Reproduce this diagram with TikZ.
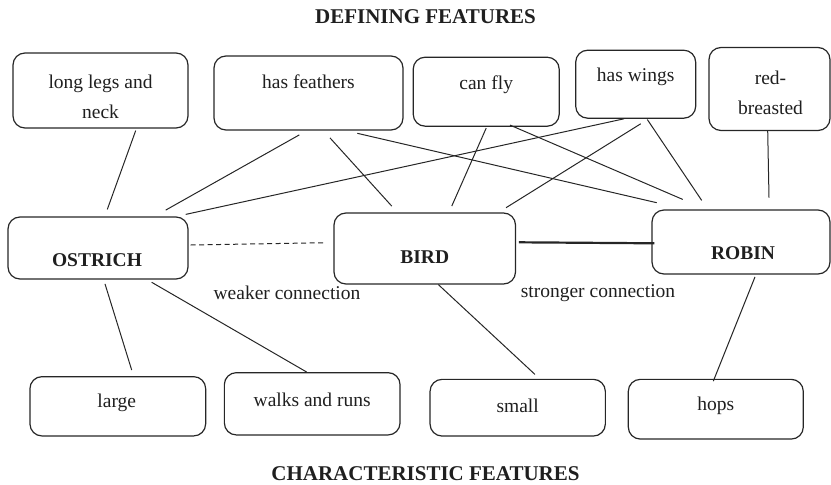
\documentclass[tikz,border=0pt]{standalone}
\usepackage{fontspec}
\setmainfont{Liberation Serif}
\begin{document}
\begin{tikzpicture}[x=1pt,y=1pt,
  box/.style 2 args={draw=black!85, line width=1.2pt, rounded corners=12pt,
    rectangle, inner sep=0pt, minimum width=#1, minimum height=#2},
  lbl/.style={font=\fontsize{19.5}{30}\selectfont, text=black!88, align=center, inner sep=0pt},
  bold/.style={font=\fontsize{19.5}{30}\selectfont\bfseries, text=black!88, inner sep=0pt},
  title/.style={font=\fontsize{21}{25}\selectfont\bfseries, text=black!88, inner sep=0pt},
  link/.style={draw=black!85, line width=1pt},
  weak/.style={link, dashed, dash pattern=on 5pt off 3.5pt},
  strong/.style={draw=black!85, line width=2.2pt}]
\path[use as bounding box] (0,0) rectangle (831,-485);

% headings
\node[title] (top) at (425.5,-17) {DEFINING FEATURES};
\node[title] (bottom) at (425.5,-474) {CHARACTERISTIC FEATURES};

% defining features
\node[box={175pt}{75pt}, label={[lbl,yshift=-6.5pt]center:long legs and\\neck}] (legs) at (100.5,-90.5) {};
\node[box={189pt}{74pt}, label={[lbl,yshift=11pt]center:has feathers}] (feathers) at (308.5,-93) {};
\node[box={146pt}{69pt}, label={[lbl,yshift=6.7pt]center:can fly}] (fly) at (486.2,-91.7) {};
\node[box={120pt}{68pt}, label={[lbl,yshift=7.5pt]center:has wings}] (wings) at (635.7,-84.2) {};
\node[box={121pt}{83pt}, label={[lbl,yshift=-3.5pt,xshift=1pt]center:red-\\breasted}] (red) at (769.5,-89) {};

% concepts
\node[box={180pt}{62pt}, label={[bold,yshift=-12pt,xshift=-1pt]center:OSTRICH}] (ostrich) at (98,-248) {};
\node[box={181.5pt}{71pt}, label={[bold,yshift=-8.5pt]center:BIRD}] (bird) at (424.75,-248.5) {};
\node[box={178pt}{64pt}, label={[bold,yshift=-11pt,xshift=2pt]center:ROBIN}] (robin) at (741,-242) {};

% characteristic features
\node[box={175.7pt}{59.3pt}, label={[lbl,yshift=3pt,xshift=-1pt]center:large}] (large) at (117.8,-406.3) {};
\node[box={175.7pt}{62.3pt}, label={[lbl,yshift=3.8pt]center:walks and runs}] (walks) at (312.2,-403.8) {};
\node[box={175.3pt}{56.7pt}, label={[lbl,yshift=1.7pt]center:small}] (small) at (517.7,-407.7) {};
\node[box={175pt}{59.7pt}, label={[lbl,yshift=3.2pt]center:hops}] (hops) at (715.8,-409.2) {};

% connection labels
\node[lbl] (weaklbl) at (287,-293) {weaker connection};
\node[lbl] (stronglbl) at (598,-293) {stronger connection};

% links from defining features
\draw[link] ([shift={(35.2,-2)}]legs.south) -- ([shift={(9.3,7)}]ostrich.north);
\draw[link] ([shift={(-9.2,-4.3)}]feathers.south) -- ([shift={(67.7,6.3)}]ostrich.north);
\draw[link] ([shift={(21.5,-7.3)}]feathers.south) -- ([shift={(-33,6.3)}]bird.north);
\draw[link] ([shift={(48.8,-2.7)}]feathers.south) -- ([shift={(-84.3,6.7)}]robin.north);
\draw[link] ([shift={(-11.7,0)}]wings.south) -- ([shift={(87.7,2)}]ostrich.north);
\draw[link] ([shift={(0,-1.3)}]fly.south) -- ([shift={(27,6.3)}]bird.north);
\draw[link] ([shift={(23.8,1.7)}]fly.south) -- ([shift={(-58.3,10)}]robin.north);
\draw[link] ([shift={(5,-5)}]wings.south) -- ([shift={(81.3,4.7)}]bird.north);
\draw[link] ([shift={(11.6,-0.7)}]wings.south) -- ([shift={(-39.3,9)}]robin.north);
\draw[link] ([shift={(-1.8,0.7)}]red.south) -- ([shift={(28,11.7)}]robin.north);

% links between concepts
\draw[weak] ([shift={(2,3)}]ostrich.east) -- ([shift={(-7.3,5.8)}]bird.west);
\draw[strong] ([shift={(2.8,6.2)}]bird.east) -- ([shift={(3,-1.3)}]robin.west);

% links to characteristic features
\draw[link] ([shift={(7,-4.3)}]ostrich.south) -- ([shift={(13.9,6)}]large.north);
\draw[link] ([shift={(53.7,-2.7)}]ostrich.south) -- ([shift={(-5.5,0)}]walks.north);
\draw[link] ([shift={(13.6,0)}]bird.south) -- ([shift={(17.3,4.3)}]small.north);
\draw[link] ([shift={(14,-2.3)}]robin.south) -- ([shift={(-2.5,-2.4)}]hops.north);
\end{tikzpicture}
\end{document}
